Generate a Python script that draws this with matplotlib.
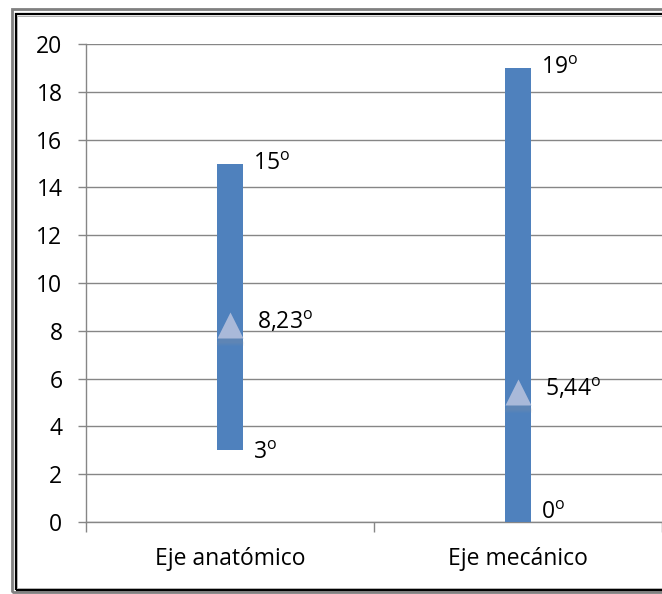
import matplotlib.pyplot as plt
from matplotlib.patches import Rectangle
import numpy as np

plt.rcParams['font.family'] = ['Open Sans', 'DejaVu Sans']
plt.rcParams['mathtext.fontset'] = 'custom'
plt.rcParams['mathtext.rm'] = 'Open Sans'

# rango de desviación por eje (mínimo, máximo y media, en grados)
ejes = ['Eje anatómico', 'Eje mecánico']
minimo = [3, 0]
maximo = [15, 19]
media = [8.23, 5.44]
etiq_min = ['3', '0']
etiq_max = ['15', '19']
etiq_media = ['8,23', '5,44']

azul = '#4F81BD'
gris = '#868686'
fs = 16.5


def grados(t):
    return t + r'$^{\mathrm{o}}$'


fig = plt.figure(figsize=(6.62, 5.94), dpi=100)
ax = fig.add_axes([0.130, 0.1212, 0.870, 0.8047])

x = np.arange(len(ejes))
alto = np.array(maximo) - np.array(minimo)
ax.bar(x, alto, bottom=minimo, width=0.09, color=azul, zorder=3)

# sombra suave bajo el triángulo de la media
for dy, a in [(-0.25, 0.10), (-0.15, 0.12)]:
    ax.plot(x, np.array(media) + dy, ls='none', marker='^', ms=20,
            mfc='#9a9a9a', mec='none', alpha=a, zorder=4)
ax.plot(x, media, ls='none', marker='^', ms=18.5, mfc='#A9B9D9', mec='none', zorder=5)

for i in range(len(ejes)):
    ax.annotate(grados(etiq_max[i]), (x[i] + 0.045, maximo[i]), xytext=(7, 0),
                textcoords='offset points', va='center', ha='left', fontsize=fs)
    y_min = max(minimo[i], 0.5)
    ax.annotate(grados(etiq_min[i]), (x[i] + 0.045, y_min), xytext=(7, -2),
                textcoords='offset points', va='center', ha='left', fontsize=fs)
    ax.annotate(grados(etiq_media[i]), (x[i] + 0.045, media[i]), xytext=(10, 2),
                textcoords='offset points', va='center', ha='left', fontsize=fs)

ax.set_xlim(-0.5, 1.5)
ax.set_ylim(0, 20)
ax.set_yticks(np.arange(0, 21, 2))
ax.set_xticks(x)
ax.set_xticklabels(ejes)
ax.set_xticks([-0.5, 0.5, 1.5], minor=True)
ax.tick_params(axis='x', which='major', length=0, pad=18, labelsize=fs)
ax.tick_params(axis='x', which='minor', length=7, width=1, color=gris)
ax.tick_params(axis='y', length=6, width=1, color=gris, pad=11, labelsize=fs)

ax.grid(axis='y', color=gris, lw=1, zorder=0)
ax.set_axisbelow(True)
for s in ['top', 'right']:
    ax.spines[s].set_visible(False)
for s in ['left', 'bottom']:
    ax.spines[s].set_color(gris)
    ax.spines[s].set_linewidth(1)

# marco doble alrededor del gráfico
W, H = 662, 594
fig.patches.append(Rectangle((12 / W, 2 / H), 1.1, (H - 11) / H, transform=fig.transFigure,
                             fill=False, ec='#808080', lw=2.0, zorder=10))
fig.patches.append(Rectangle((15.5 / W, 4.5 / H), 1.1, (H - 18) / H, transform=fig.transFigure,
                             fill=False, ec='black', lw=1.6, zorder=10))
fig.patches.append(Rectangle((17 / W, 6.5 / H), 1.1, (H - 22) / H, transform=fig.transFigure,
                             fill=False, ec='#b0b0b0', lw=0.7, zorder=10))

fig.savefig('out.png', dpi=100)
